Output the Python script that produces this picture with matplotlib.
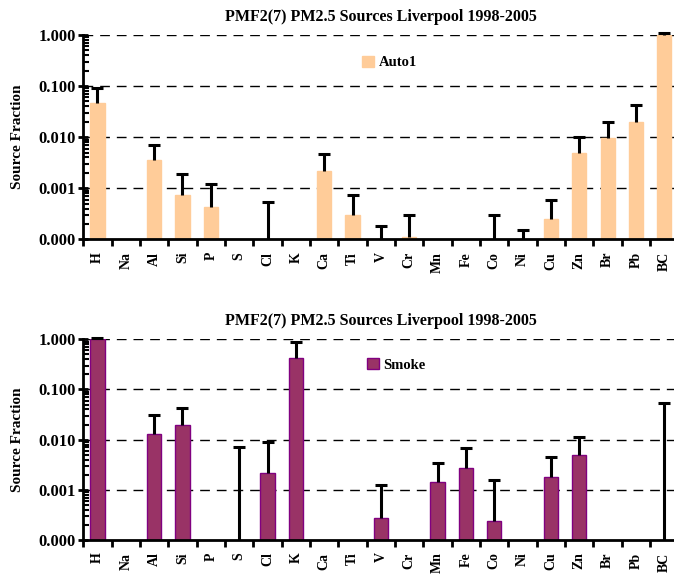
import numpy as np
import matplotlib
matplotlib.use('Agg')
import matplotlib.pyplot as plt
from matplotlib.patches import Patch
from matplotlib.ticker import LogLocator, FixedLocator, FuncFormatter, NullFormatter

plt.rcParams['font.family'] = ['Liberation Serif', 'DejaVu Serif']
plt.rcParams['font.weight'] = 'bold'

elements = ["H", "Na", "Al", "Si", "P", "S", "Cl", "K", "Ca", "Ti", "V",
            "Cr", "Mn", "Fe", "Co", "Ni", "Cu", "Zn", "Br", "Pb", "BC"]

auto1 = [0.046, 0, 0.0035, 0.00074, 0.00042, 0, 0, 0, 0.0022, 0.00030, 0,
         0.00011, 0, 0, 0, 0, 0.00025, 0.0048, 0.0097, 0.0195, 1.0]
auto1_err = [0.047, 0, 0.0035, 0.00116, 0.00078, 0, 0.00053, 0, 0.0025, 0.00044, 0.00018,
             0.00019, 0, 0, 0.00030, 0.00015, 0.00035, 0.0051, 0.0099, 0.0225, 0.08]

smoke = [1.0, 0, 0.0132, 0.0197, 0, 0, 0.0022, 0.43, 0, 0, 0.00027,
         0, 0.0014, 0.0027, 0.00024, 0, 0.0018, 0.0049, 0, 0, 0]
smoke_err = [0.08, 0, 0.0184, 0.0239, 0, 0.0070, 0.0068, 0.455, 0, 0, 0.00099,
             0, 0.0021, 0.0042, 0.00134, 0, 0.0028, 0.0066, 0, 0, 0.055]

title = "PMF2(7) PM2.5 Sources Liverpool 1998-2005"


def draw_panel(ax, vals, errs, color, edge, name, leg_pos):
    x = np.arange(len(elements))
    vals = np.array(vals, dtype=float)
    errs = np.array(errs, dtype=float)
    ax.set_yscale('log')
    ax.set_ylim(1e-4, 1)
    ax.set_xlim(-0.5, len(elements) - 0.5)
    floor = ax.get_ylim()[0]

    for v in [1e-3, 1e-2, 1e-1, 1]:
        ax.axhline(v, color='black', lw=1, ls=(0, (7, 5)), zorder=0)

    ax.bar(x, vals, width=0.5, color=color, edgecolor=edge, linewidth=1, zorder=2)

    # upper error bars only, stems start at the bar top (or the axis floor)
    has_err = errs > 0
    tops = vals + errs
    starts = np.maximum(vals, floor)
    ax.vlines(x[has_err], starts[has_err], tops[has_err], color='black', lw=2.2,
              zorder=3, clip_on=False)
    ax.scatter(x[has_err], tops[has_err], marker='_', s=70, linewidths=2.2,
               color='black', zorder=3, clip_on=False)

    ax.spines['top'].set_visible(False)
    ax.spines['right'].set_visible(False)
    ax.spines['left'].set_linewidth(2)
    ax.spines['bottom'].set_linewidth(2)

    ax.yaxis.set_major_locator(LogLocator(base=10, numticks=10))
    ax.yaxis.set_minor_locator(LogLocator(base=10, subs=np.arange(2, 10), numticks=10))
    ax.yaxis.set_major_formatter(FuncFormatter(lambda v, p: "%.3f" % v))
    ax.yaxis.set_minor_formatter(NullFormatter())
    ax.tick_params(axis='y', which='major', direction='inout', length=7, width=2,
                   labelsize=12, pad=2)
    ax.tick_params(axis='y', which='minor', direction='in', length=4, width=1.5)

    ax.set_xticks(x)
    ax.set_xticklabels(elements, rotation=90, fontsize=10, fontweight='bold')
    ax.xaxis.set_minor_locator(FixedLocator(np.arange(len(elements) + 1) - 0.5))
    ax.tick_params(axis='x', which='major', length=0, pad=9)
    ax.tick_params(axis='x', which='minor', direction='out', length=5, width=2)
    for lbl in ax.get_yticklabels():
        lbl.set_fontweight('bold')

    ax.set_ylabel("Source Fraction", fontsize=11, fontweight='bold')
    ax.yaxis.set_label_coords(-0.1, 0.5)
    ax.set_title(title, fontsize=11.5, fontweight='bold', pad=10)

    ax.legend([Patch(facecolor=color, edgecolor=edge, linewidth=1)], [name],
              loc='center left', bbox_to_anchor=leg_pos, frameon=False,
              handlelength=0.8, handleheight=0.8, handletextpad=0.3,
              prop={'size': 10.5, 'weight': 'bold'})


fig = plt.figure(figsize=(6.74, 5.76), dpi=100)
ax1 = fig.add_axes([0.1236, 0.5845, 0.883, 0.3547])
ax2 = fig.add_axes([0.1236, 0.0625, 0.883, 0.3484])

draw_panel(ax1, auto1, auto1_err, '#FFCC99', '#FFCC99', "Auto1", (0.447, 0.865))
draw_panel(ax2, smoke, smoke_err, '#993366', '#800080', "Smoke", (0.455, 0.872))

fig.savefig("out.png", dpi=100)
plt.close()
